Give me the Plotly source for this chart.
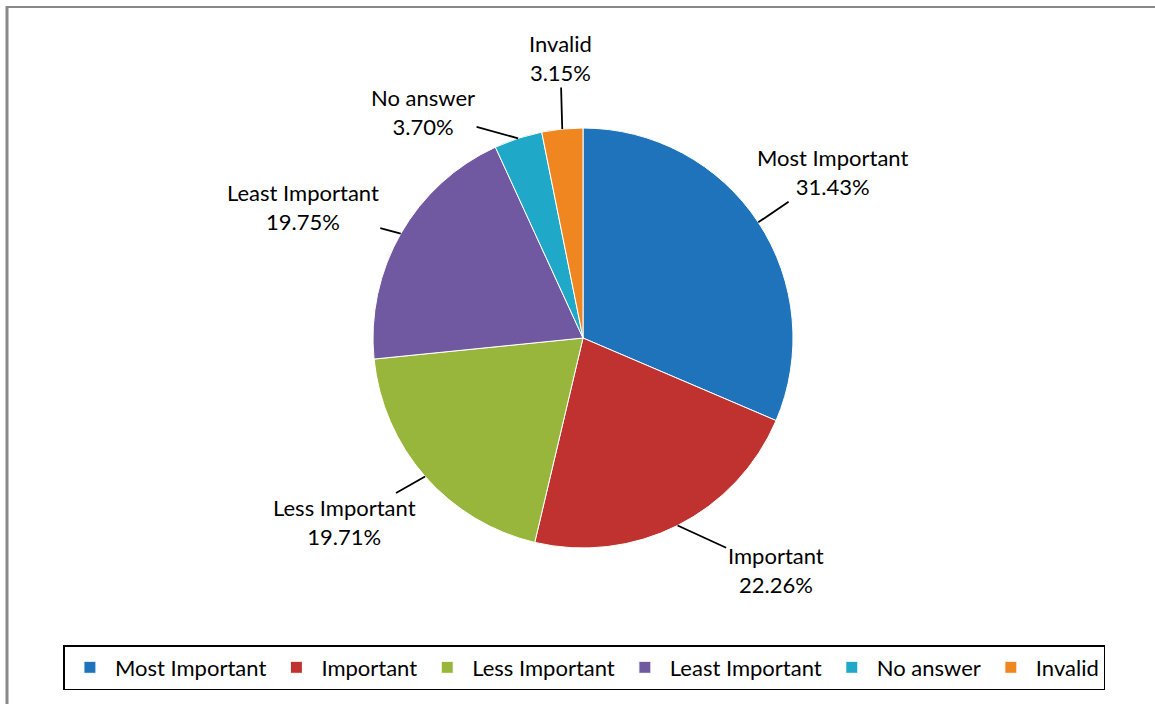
import math
import plotly.graph_objects as go

categories = ["Most Important", "Important", "Less Important", "Least Important", "No answer", "Invalid"]
values = [31.43, 22.26, 19.71, 19.75, 3.70, 3.15]
colors = ["#1F73BA", "#C0322F", "#99B63C", "#7159A2", "#20A8C9", "#F0861F"]
# label offsets (pixels) from slice edge, styling only
label_offsets = [(74, -50), (98, 45), (-81, 46), (-98, -27), (-95, -26), (-2, -71)]

W, H = 1155, 704
cx, cy, r = 583, 338, 210  # pixel layout of pie
FONT = "Lato"

fig = go.Figure()
fig.add_trace(go.Pie(
    labels=categories, values=values, sort=False, direction="clockwise", rotation=0,
    marker=dict(colors=colors, line=dict(color="#FFFFFF", width=1)),
    textinfo="none", hoverinfo="label+percent",
    domain=dict(x=[(cx - r) / W, (cx + r) / W], y=[1 - (cy + r) / H, 1 - (cy - r) / H]),
))

annotations = []
total = sum(values)
cum = 0.0
for cat, v, (ax, ay) in zip(categories, values, label_offsets):
    mid = (cum + v / 2) / total * 2 * math.pi
    cum += v
    px = cx + r * math.sin(mid)
    py = cy - r * math.cos(mid)
    annotations.append(dict(
        x=px / W, y=1 - py / H, xref="paper", yref="paper",
        text=f"{cat}<br>{v:.2f}%", showarrow=True, arrowhead=0, arrowwidth=1.8,
        arrowcolor="#000000", ax=ax, ay=ay, standoff=0,
        font=dict(family=FONT, size=22, color="#000000"), align="center",
    ))

shapes = [
    dict(type="line", xref="paper", yref="paper", x0=6 / W, x1=1, y0=1 - 7 / H, y1=1 - 7 / H,
         line=dict(color="#888888", width=2)),
    dict(type="line", xref="paper", yref="paper", x0=7 / W, x1=7 / W, y0=0, y1=1 - 6 / H,
         line=dict(color="#888888", width=3)),
]

fig.update_layout(
    width=W, height=H, margin=dict(l=0, r=0, t=0, b=0),
    paper_bgcolor="#FFFFFF", plot_bgcolor="#FFFFFF",
    showlegend=True,
    legend=dict(orientation="h", x=0.506, xanchor="center", y=1 - 645 / H, yanchor="top",
                bordercolor="#000000", borderwidth=1.5, font=dict(family=FONT, size=22, color="#000000"),
                itemwidth=40, traceorder="normal"),
    annotations=annotations, shapes=shapes,
)

fig.write_html("out.html", config={"displayModeBar": False},
               post_script="document.body.style.margin='0';")
